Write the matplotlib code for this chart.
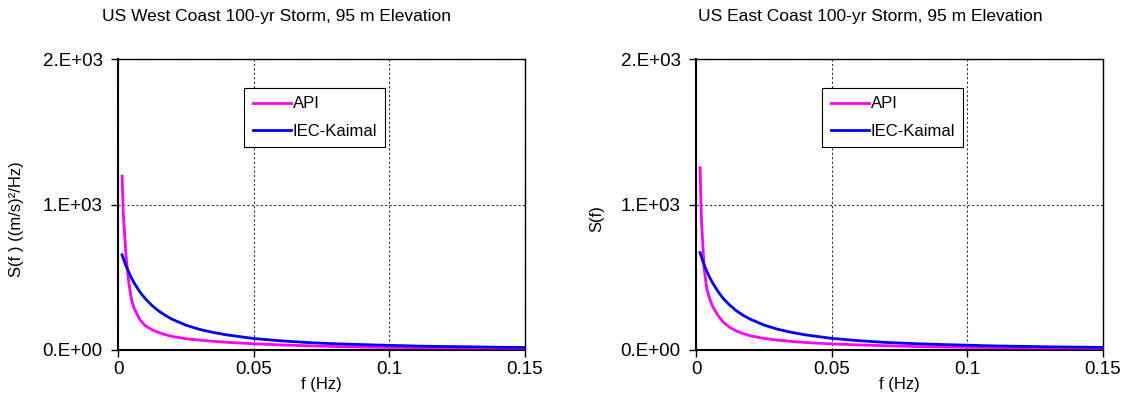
import matplotlib
matplotlib.use("Agg")
import matplotlib.pyplot as plt

plt.rcParams['font.family'] = ['Liberation Sans', 'DejaVu Sans']

freq = [0.0015, 0.002, 0.003, 0.004, 0.005, 0.006, 0.008, 0.010, 0.0125, 0.015,
        0.0175, 0.02, 0.025, 0.03, 0.035, 0.04, 0.05, 0.06, 0.07, 0.08, 0.09,
        0.10, 0.11, 0.12, 0.13, 0.14, 0.15]

west_api = [1195, 920, 640, 460, 345, 285, 210, 168, 140, 120, 105, 93, 78, 68, 60,
            53, 43, 35, 29, 24, 20, 17, 16, 15, 14, 13, 12]
west_kaimal = [654, 627, 576, 533, 494, 459, 401, 354, 306, 268, 237, 211, 171, 142,
               121, 104, 79, 63, 51, 43, 37, 32, 27, 24, 22, 19, 17]

east_api = [1253, 900, 560, 420, 355, 305, 240, 192, 155, 130, 112, 98, 80, 68, 59,
            52, 42, 35, 29, 24, 21, 18, 16, 15, 14, 13, 12]
east_kaimal = [669, 640, 585, 540, 500, 465, 405, 355, 307, 268, 237, 212, 172, 143,
               122, 105, 80, 64, 52, 44, 38, 33, 28, 25, 22, 20, 18]

titles = ["US West Coast 100-yr Storm, 95 m Elevation",
          "US East Coast 100-yr Storm, 95 m Elevation"]
ylabels = ["S(f ) ((m/s)\u00b2/Hz)", "S(f)"]
xlabel = "f (Hz)"
series_names = ["API", "IEC-Kaimal"]
xticks = [0, 0.05, 0.1, 0.15]
xticklabels = ["0", "0.05", "0.1", "0.15"]
yticks = [0, 1000, 2000]
yticklabels = ["0.E+00", "1.E+03", "2.E+03"]

W, H = 1127, 413
fig = plt.figure(figsize=(W / 100, H / 100), dpi=100)

panels = [
    dict(left=118, api=west_api, kai=west_kaimal, title=titles[0], title_x=276,
         ylabel=ylabels[0], ylabel_x=17),
    dict(left=696, api=east_api, kai=east_kaimal, title=titles[1], title_x=870,
         ylabel=ylabels[1], ylabel_x=597),
]

ax_w, ax_top, ax_bot = 407, 59, 350

for p in panels:
    ax = fig.add_axes([p['left'] / W, (H - ax_bot) / H, ax_w / W, (ax_bot - ax_top) / H])
    ax.plot(freq, p['api'], color='#ff00ff', lw=2, label=series_names[0], zorder=3)
    ax.plot(freq, p['kai'], color='#0000ff', lw=2, label=series_names[1], zorder=3)
    ax.set_xlim(0, 0.15)
    ax.set_ylim(0, 2000)
    ax.set_xticks(xticks)
    ax.set_xticklabels(xticklabels, fontsize=13.5)
    ax.set_yticks(yticks)
    ax.set_yticklabels(yticklabels, fontsize=13.5)
    ax.tick_params(axis='x', direction='out', length=5, width=1, colors='black', pad=3)
    ax.tick_params(axis='y', direction='out', length=5, width=1, colors='black', pad=6)
    ax.grid(True, color='black', linestyle=(0, (2, 2)), linewidth=0.8, alpha=0.8)
    for s in ax.spines.values():
        s.set_color('black')
        s.set_linewidth(1)
    ax.spines['left'].set_linewidth(1.5)
    ax.spines['bottom'].set_linewidth(1.5)
    leg = ax.legend(loc='upper left', bbox_to_anchor=(0.31, 0.90), fontsize=12,
                    frameon=True, fancybox=False, edgecolor='black', framealpha=1,
                    handlelength=2.3, handletextpad=0.1, borderpad=0.5,
                    labelspacing=0.75, borderaxespad=0)
    leg.get_frame().set_linewidth(0.8)
    fig.text(p['title_x'] / W, 1 - 17 / H, p['title'], ha='center', va='center',
             fontsize=12.5)
    fig.text((p['left'] + ax_w / 2) / W, 1 - 384 / H, xlabel, ha='center',
             va='center', fontsize=12)
    fig.text(p['ylabel_x'] / W, 1 - 219 / H, p['ylabel'], ha='center', va='center',
             rotation=90, fontsize=12)

fig.savefig("out.png", dpi=100)
